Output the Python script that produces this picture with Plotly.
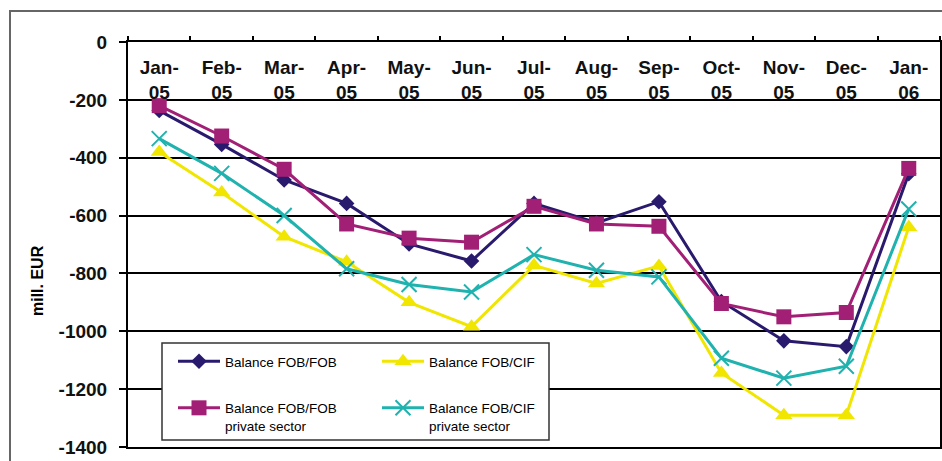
import plotly.graph_objects as go

# Months shown on the top axis.
months = ["Jan-<br>05", "Feb-<br>05", "Mar-<br>05", "Apr-<br>05", "May-<br>05", "Jun-<br>05",
          "Jul-<br>05", "Aug-<br>05", "Sep-<br>05", "Oct-<br>05", "Nov-<br>05", "Dec-<br>05",
          "Jan-<br>06"]

# Values in mill. EUR.
fob_fob = [-237, -354, -477, -558, -698, -757, -558, -625, -552, -897, -1033, -1053, -455]
fob_cif = [-380, -520, -673, -760, -900, -984, -772, -835, -774, -1144, -1290, -1290, -640]
fob_fob_private = [-220, -325, -440, -629, -678, -692, -568, -629, -637, -904, -950, -935, -437]
fob_cif_private = [-334, -454, -600, -784, -838, -864, -735, -789, -812, -1093, -1162, -1121, -577]

y_tick_vals = [0, -200, -400, -600, -800, -1000, -1200, -1400]
y_tick_text = ["0", "-200", "-400", "-600", "-800", "-1000", "-1200", "-1400"]

_NAVY = "#2A1A6E"
_YELLOW = "#F0E600"
_MAGENTA = "#A21F76"
_TEAL = "#1FB2AE"
_FONT = "Arial, Liberation Sans, sans-serif"

fig = go.Figure()
fig.add_scatter(
    x=months, y=fob_fob, mode="lines+markers", name="Balance FOB/FOB",
    line=dict(color=_NAVY, width=3),
    marker=dict(symbol="diamond", size=12, color=_NAVY),
    legend="legend", legendgroup="a",
)
fig.add_scatter(
    x=months, y=fob_cif, mode="lines+markers", name="Balance FOB/CIF",
    line=dict(color=_YELLOW, width=3),
    marker=dict(symbol="triangle-up", size=15, color=_YELLOW),
    legend="legend2", legendgroup="c",
)
fig.add_scatter(
    x=months, y=fob_fob_private, mode="lines+markers",
    name="Balance FOB/FOB<br>private sector",
    line=dict(color=_MAGENTA, width=3),
    marker=dict(symbol="square", size=15, color=_MAGENTA),
    legend="legend", legendgroup="b",
)
fig.add_scatter(
    x=months, y=fob_cif_private, mode="lines+markers",
    name="Balance FOB/CIF<br>private sector",
    line=dict(color=_TEAL, width=3),
    marker=dict(symbol="x-thin", size=15, color=_TEAL,
                line=dict(width=2, color=_TEAL)),
    legend="legend2", legendgroup="d",
)

# Outer chart frame (extends beyond the visible window).
fig.add_shape(type="rect", xref="paper", yref="paper",
              x0=(10 - 128) / 812, x1=1.2, y0=-0.2, y1=(447 - 11) / 405,
              line=dict(color="#666", width=2), layer="below")
# Legend box.
fig.add_shape(type="rect", xref="paper", yref="paper",
              x0=(162 - 128) / 812, x1=(549 - 128) / 812,
              y0=(447 - 440) / 405, y1=(447 - 343) / 405,
              fillcolor="white", line=dict(color="#333", width=1.5),
              layer="above")

# Y-axis title.
fig.add_annotation(text="<b>mill. EUR</b>", xref="paper", yref="paper",
                   x=(37 - 128) / 812, y=(447 - 281) / 405, textangle=-90,
                   xanchor="center", yanchor="middle",
                   showarrow=False, font=dict(size=16, color="black", family=_FONT))

legend_common = dict(bgcolor="rgba(0,0,0,0)", borderwidth=0, yanchor="top",
                     xanchor="left", tracegroupgap=26, valign="top", itemwidth=42,
                     font=dict(size=13.5, color="black", family=_FONT))

fig.update_layout(
    width=942, height=461,
    margin=dict(l=128, r=2, t=42, b=14, autoexpand=False),
    paper_bgcolor="white", plot_bgcolor="white",
    font=dict(family=_FONT, color="black"),
    showlegend=True,
    legend=dict(x=(173 - 128) / 812, y=(447 - 346) / 405, **legend_common),
    legend2=dict(x=(377 - 128) / 812, y=(447 - 346) / 405, **legend_common),
    xaxis=dict(
        type="category", side="top", range=[-0.5, 12.5], automargin=False,
        tickson="boundaries", ticks="outside", ticklen=4, tickwidth=2,
        tickcolor="black", showticklabels=False, showgrid=False,
        showline=True, linecolor="black", linewidth=2, mirror=True,
    ),
    xaxis2=dict(
        type="category", overlaying="x", side="top", anchor="y",
        range=[-0.5, 12.5], automargin=False, matches="x",
        categoryarray=months, categoryorder="array",
        ticks="", showgrid=False, showline=False, zeroline=False,
        tickfont=dict(size=19, weight="bold", color="#111"),
        ticklabelstandoff=-62,
    ),
    yaxis=dict(
        range=[-1400, 0], tickvals=y_tick_vals, ticktext=y_tick_text,
        automargin=False,
        showgrid=True, gridcolor="black", gridwidth=2, zeroline=False,
        showline=True, linecolor="black", linewidth=2, mirror=True,
        ticks="outside", ticklen=7, tickwidth=2, tickcolor="black",
        tickfont=dict(size=19, weight="bold", color="#111"),
        ticklabelstandoff=8,
    ),
)

# Invisible trace that carries the month labels on the overlaid axis.
fig.add_scatter(x=months, y=[None] * len(months), xaxis="x2", showlegend=False,
                hoverinfo="skip")

# Drop the browser's default body margin so the figure sits at the page corner.
fig.write_html("out.html", config={"displayModeBar": False},
               post_script="document.body.style.margin='0';")
